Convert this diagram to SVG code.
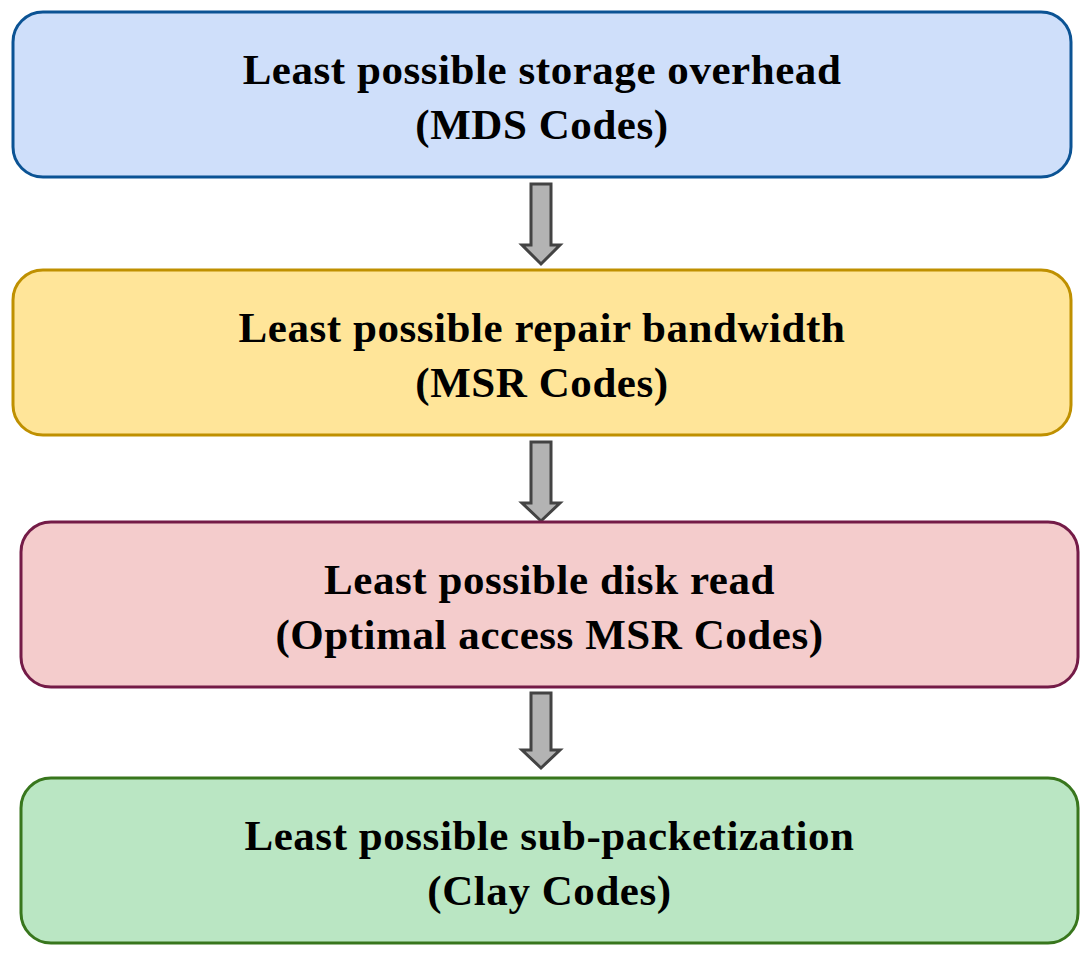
<svg xmlns="http://www.w3.org/2000/svg" width="1086" height="956" viewBox="0 0 1086 956">
<style>
.box{stroke-width:3}
.t{font-family:"Liberation Serif","Times New Roman",serif;font-weight:bold;font-size:43px;letter-spacing:0.55px;fill:#000;text-anchor:middle}
.arr{fill:#b3b3b3;stroke:#434343;stroke-width:3;stroke-linejoin:miter}
</style>
<rect width="1086" height="956" fill="#ffffff"/>
<g id="connectors">
<path class="arr" d="M531,184 H551 V245 H560 L541,264 L522,245 H531 Z"/>
<path class="arr" d="M531,442 H551 V503 H560 L541,521 L522,503 H531 Z"/>
<path class="arr" d="M531,693 H551 V750 H560 L541,768 L522,750 H531 Z"/>
</g>
<g id="node1">
<rect class="box" x="13" y="12" width="1058" height="165" rx="30" fill="#cfdffa" stroke="#0b5394"/>
<text class="t" x="542" y="84">Least possible storage overhead</text>
<text class="t" x="542" y="139">(MDS Codes)</text>
</g>
<g id="node2">
<rect class="box" x="13" y="270" width="1058" height="165" rx="30" fill="#ffe599" stroke="#bf9000"/>
<text class="t" x="542" y="342">Least possible repair bandwidth</text>
<text class="t" x="542" y="397">(MSR Codes)</text>
</g>
<g id="node3">
<rect class="box" x="21" y="522" width="1057" height="165" rx="30" fill="#f4cccc" stroke="#741b47"/>
<text class="t" x="549.5" y="594">Least possible disk read</text>
<text class="t" x="549.5" y="649">(Optimal access MSR Codes)</text>
</g>
<g id="node4">
<rect class="box" x="21" y="778" width="1057" height="165" rx="30" fill="#bae6c3" stroke="#38761d"/>
<text class="t" x="549.5" y="850">Least possible sub-packetization</text>
<text class="t" x="549.5" y="905">(Clay Codes)</text>
</g>
</svg>
